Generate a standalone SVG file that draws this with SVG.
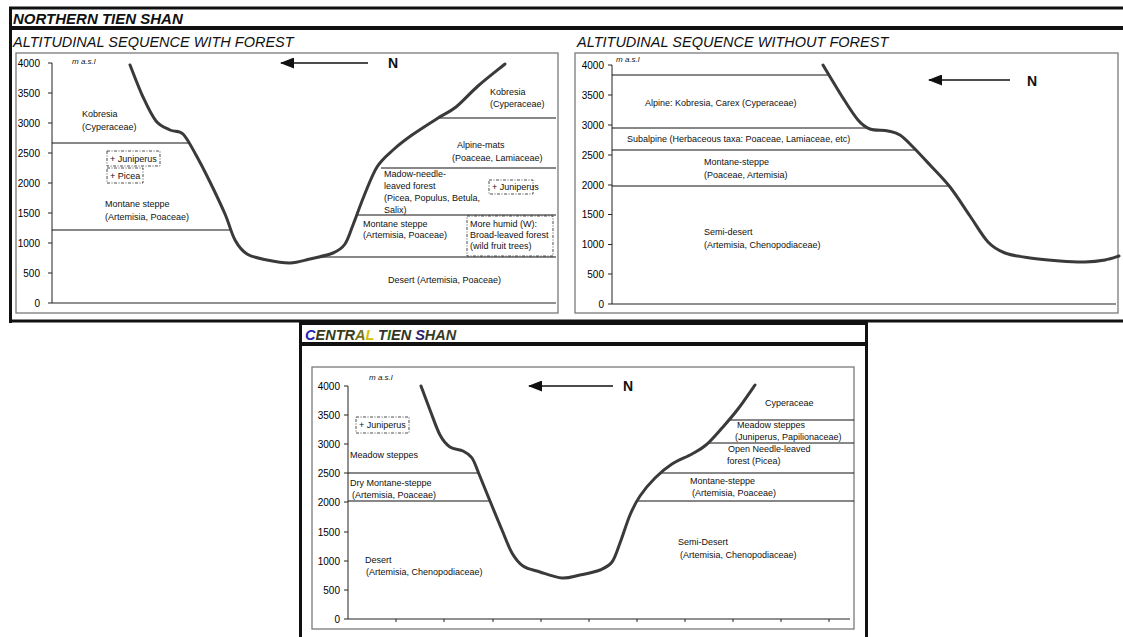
<svg xmlns="http://www.w3.org/2000/svg" width="1123" height="637" viewBox="0 0 1123 637">
<style>
text{font-family:"Liberation Sans",Arial,sans-serif;fill:#111}
.fr{stroke:#111;fill:none}
.box{stroke:#7a7a7a;stroke-width:1.3;fill:#fff}
.ax{stroke:#222;stroke-width:1;fill:none}
.zn{stroke:#111;stroke-width:1;fill:none}
.cv{stroke:#3a3a3a;stroke-width:3;fill:none;stroke-linejoin:round;stroke-linecap:round}
.lb{font-size:9px}
.tk{font-size:10px;text-anchor:end;fill:#000}
.ms{font-size:8px;font-style:italic}
.ds{fill:none;stroke:#222;stroke-width:0.8;stroke-dasharray:3 1.5 1 1.5}
.ti{font-size:15px;font-weight:bold;font-style:italic}
.st{font-size:14.5px;font-style:italic}
.n{font-size:14px;font-weight:bold}
.ar{stroke:#111;stroke-width:1.5;fill:none}
</style>
<defs>
<marker id="ah" markerUnits="userSpaceOnUse" markerWidth="14" markerHeight="11" refX="13" refY="5.5" orient="auto">
<path d="M0,0 L14,5.5 L0,11 Z" fill="#111"/>
</marker>
</defs>

<!-- outer frame of Northern Tien Shan -->
<g id="frame-north">
<line class="fr" x1="9" y1="8" x2="1123" y2="8" stroke-width="3"/>
<line class="fr" x1="9" y1="28" x2="1123" y2="28" stroke-width="4"/>
<line class="fr" x1="10.5" y1="7" x2="10.5" y2="323" stroke-width="3"/>
<line class="fr" x1="9" y1="321" x2="1123" y2="321" stroke-width="3"/>
<text class="ti" x="13" y="23.5">NORTHERN TIEN SHAN</text>
<text class="st" x="13" y="46.5">ALTITUDINAL SEQUENCE WITH FOREST</text>
<text class="st" x="577" y="46.5">ALTITUDINAL SEQUENCE WITHOUT FOREST</text>
</g>

<!-- chart: with forest -->
<g id="chart-with-forest">
<rect class="box" x="16" y="53" width="542" height="260"/>
<path class="ax" d="M52,63 V303 H556 M48,63 H52 M48,93 H52 M48,123 H52 M48,153 H52 M48,183 H52 M48,213 H52 M48,243 H52 M48,273 H52 M48,303 H52"/>
<text class="tk" x="40" y="66.5">4000</text>
<text class="tk" x="40" y="96.5">3500</text>
<text class="tk" x="40" y="126.5">3000</text>
<text class="tk" x="40" y="156.5">2500</text>
<text class="tk" x="40" y="186.5">2000</text>
<text class="tk" x="40" y="216.5">1500</text>
<text class="tk" x="40" y="246.5">1000</text>
<text class="tk" x="40" y="276.5">500</text>
<text class="tk" x="40" y="306.5">0</text>
<text class="ms" x="72" y="64">m a.s.l</text>
<path class="zn" d="M52,143 H188 M52,230 H231 M438,118 H556 M381,168 H556 M358,215 H556 M318,257 H556"/>
<path class="cv" d="M130,65 C132.2,70.3 138.7,87.7 143,97 C147.3,106.3 151.5,115.5 156,121 C160.5,126.5 165.5,127.8 170,130 C174.5,132.2 178.7,129.8 183,134 C187.3,138.2 191.5,147 196,155 C200.5,163 205.2,172.2 210,182 C214.8,191.8 220.8,204.3 225,214 C229.2,223.7 231.3,233.3 235,240 C238.7,246.7 241.7,250.7 247,254 C252.3,257.3 259.8,258.5 267,260 C274.2,261.5 282.8,263.2 290,263 C297.2,262.8 302.8,260.7 310,259 C317.2,257.3 327.2,255.5 333,253 C338.8,250.5 341.7,248.7 345,244 C348.3,239.3 349.8,233 353,225 C356.2,217 360,205.7 364,196 C368,186.3 372.2,174.7 377,167 C381.8,159.3 387.2,155.3 393,150 C398.8,144.7 404.5,140.3 412,135 C419.5,129.7 430.7,122.7 438,118 C445.3,113.3 449.3,112.3 456,107 C462.7,101.7 469.8,93.2 478,86 C486.2,78.8 500.5,67.7 505,64"/>
<line class="ar" x1="368" y1="63" x2="281" y2="63" marker-end="url(#ah)"/>
<text class="n" x="388" y="68">N</text>
<text class="lb" x="82" y="116.5">Kobresia</text>
<text class="lb" x="82" y="129.5">(Cyperaceae)</text>
<rect class="ds" x="107" y="151" width="53" height="15"/>
<text class="lb" x="110" y="161.5">+ Juniperus</text>
<rect class="ds" x="107" y="168" width="36" height="15"/>
<text class="lb" x="110" y="178.5">+ Picea</text>
<text class="lb" x="105" y="206.5">Montane steppe</text>
<text class="lb" x="105" y="219.5">(Artemisia, Poaceae)</text>
<text class="lb" x="490" y="95">Kobresia</text>
<text class="lb" x="490" y="107">(Cyperaceae)</text>
<text class="lb" x="457" y="148">Alpine-mats</text>
<text class="lb" x="452" y="160.5">(Poaceae, Lamiaceae)</text>
<text class="lb" x="384" y="176.5">Madow-needle-</text>
<text class="lb" x="384" y="189">leaved forest</text>
<text class="lb" x="384" y="201">(Picea, Populus, Betula,</text>
<text class="lb" x="384" y="213">Salix)</text>
<rect class="ds" x="489" y="180" width="44" height="14"/>
<text class="lb" x="492" y="190">+ Juniperus</text>
<text class="lb" x="363" y="226.5">Montane steppe</text>
<text class="lb" x="363" y="238">(Artemisia, Poaceae)</text>
<rect class="ds" x="467" y="216" width="86" height="40"/>
<text class="lb" x="470" y="226.5">More humid (W):</text>
<text class="lb" x="470" y="237.5">Broad-leaved forest</text>
<text class="lb" x="470" y="248.5">(wild fruit trees)</text>
<text class="lb" x="388" y="283">Desert (Artemisia, Poaceae)</text>
</g>

<!-- chart: without forest -->
<g id="chart-without-forest">
<rect class="box" x="575" y="53" width="543" height="260"/>
<path class="ax" d="M612,65 V304 H1116 M608,65 H612 M608,95 H612 M608,125 H612 M608,155 H612 M608,185 H612 M608,214.5 H612 M608,244.5 H612 M608,274 H612 M608,304 H612"/>
<text class="tk" x="604" y="68.5">4000</text>
<text class="tk" x="604" y="98.5">3500</text>
<text class="tk" x="604" y="128.5">3000</text>
<text class="tk" x="604" y="158.5">2500</text>
<text class="tk" x="604" y="188.5">2000</text>
<text class="tk" x="604" y="218">1500</text>
<text class="tk" x="604" y="248">1000</text>
<text class="tk" x="604" y="277.5">500</text>
<text class="tk" x="604" y="307.5">0</text>
<text class="ms" x="616" y="62">m a.s.l</text>
<path class="zn" d="M612,75 H829 M612,128 H867 M612,150 H916 M612,186 H950"/>
<path class="cv" d="M823,65 C826.3,70.5 837.2,88.8 843,98 C848.8,107.2 853.5,114.8 858,120 C862.5,125.2 865,127.2 870,129 C875,130.8 883,130 888,131 C893,132 895.8,132.3 900,135 C904.2,137.7 908,142 913,147 C918,152 923.8,158.3 930,165 C936.2,171.7 943.3,178.5 950,187 C956.7,195.5 963.7,206.8 970,216 C976.3,225.2 982.2,235.8 988,242 C993.8,248.2 998,250.3 1005,253 C1012,255.7 1020.8,256.7 1030,258 C1039.2,259.3 1050.8,260.3 1060,261 C1069.2,261.7 1077.5,262.2 1085,262 C1092.5,261.8 1099.3,261 1105,260 C1110.7,259 1116.7,256.7 1119,256"/>
<line class="ar" x1="1010" y1="80" x2="929" y2="80" marker-end="url(#ah)"/>
<text class="n" x="1027" y="86">N</text>
<text class="lb" x="645" y="106">Alpine: Kobresia, Carex (Cyperaceae)</text>
<text class="lb" x="627" y="142">Subalpine (Herbaceous taxa: Poaceae, Lamiaceae, etc)</text>
<text class="lb" x="704" y="164.5">Montane-steppe</text>
<text class="lb" x="704" y="177.5">(Poaceae, Artemisia)</text>
<text class="lb" x="704" y="235">Semi-desert</text>
<text class="lb" x="704" y="248">(Artemisia, Chenopodiaceae)</text>
</g>

<!-- Central Tien Shan -->
<g id="frame-central">
<line class="fr" x1="299" y1="323.5" x2="868" y2="323.5" stroke-width="3"/>
<line class="fr" x1="300.5" y1="321" x2="300.5" y2="637" stroke-width="3"/>
<line class="fr" x1="866.5" y1="321" x2="866.5" y2="637" stroke-width="3"/>
<line class="fr" x1="299" y1="344" x2="868" y2="344" stroke-width="4"/>
<text class="ti" x="305" y="340" style="font-size:14.5px"><tspan fill="#2424b8">C</tspan><tspan fill="#3a3a16">ENTR</tspan><tspan fill="#7a7418">A</tspan><tspan fill="#d6c000">L</tspan><tspan fill="#333"> T</tspan><tspan fill="#1c6e1c">I</tspan><tspan fill="#33331e">EN </tspan><tspan fill="#2a2070">S</tspan><tspan fill="#3a3a1e">HAN</tspan></text>
</g>

<g id="chart-central">
<rect class="box" x="312" y="367" width="542" height="262"/>
<path class="ax" d="M348,386 V619 H850 M344,386 H348 M344,415 H348 M344,444 H348 M344,473 H348 M344,502 H348 M344,532 H348 M344,561 H348 M344,590 H348 M344,619 H348 M396,619 V622 M444,619 V622 M493,619 V622 M541,619 V622 M589,619 V622 M637,619 V622 M685,619 V622 M733,619 V622 M781,619 V622 M829,619 V622"/>
<text class="tk" x="340" y="389.5">4000</text>
<text class="tk" x="340" y="418.5">3500</text>
<text class="tk" x="340" y="447.5">3000</text>
<text class="tk" x="340" y="476.5">2500</text>
<text class="tk" x="340" y="505.5">2000</text>
<text class="tk" x="340" y="535.5">1500</text>
<text class="tk" x="340" y="564.5">1000</text>
<text class="tk" x="340" y="593.5">500</text>
<text class="tk" x="340" y="622.5">0</text>
<text class="ms" x="369" y="380">m a.s.l</text>
<path class="zn" d="M348,473 H478 M348,501 H490 M729,420 H854 M707,443 H854 M661,473 H854 M638,501 H854"/>
<path class="cv" d="M421,386 C422.5,390 426.8,401.8 430,410 C433.2,418.2 436.7,428.8 440,435 C443.3,441.2 446.2,444.3 450,447 C453.8,449.7 459.3,449.2 463,451 C466.7,452.8 469.3,454.2 472,458 C474.7,461.8 476,466.8 479,474 C482,481.2 486.2,491.7 490,501 C493.8,510.3 498.3,521.3 502,530 C505.7,538.7 508.5,547 512,553 C515.5,559 518.3,562.8 523,566 C527.7,569.2 533.5,570 540,572 C546.5,574 555.3,577.5 562,578 C568.7,578.5 573.7,576.3 580,575 C586.3,573.7 594.7,572.2 600,570 C605.3,567.8 608.7,566.5 612,562 C615.3,557.5 617,550.8 620,543 C623,535.2 626.7,522.8 630,515 C633.3,507.2 635.8,502.2 640,496 C644.2,489.8 649.7,483.3 655,478 C660.3,472.7 665.8,468 672,464 C678.2,460 686.3,457.2 692,454 C697.7,450.8 701,449.3 706,445 C711,440.7 716.7,434 722,428 C727.3,422 732.5,416.2 738,409 C743.5,401.8 752.2,389 755,385"/>
<line class="ar" x1="613" y1="386" x2="529" y2="386" marker-end="url(#ah)"/>
<text class="n" x="623" y="391">N</text>
<rect class="ds" x="356" y="417" width="53" height="16"/>
<text class="lb" x="359" y="428">+ Juniperus</text>
<text class="lb" x="350" y="458">Meadow steppes</text>
<text class="lb" x="350" y="486">Dry Montane-steppe</text>
<text class="lb" x="352" y="498">(Artemisia, Poaceae)</text>
<text class="lb" x="365" y="563">Desert</text>
<text class="lb" x="366" y="575">(Artemisia, Chenopodiaceae)</text>
<text class="lb" x="765" y="406">Cyperaceae</text>
<text class="lb" x="737" y="428">Meadow steppes</text>
<text class="lb" x="735" y="440">(Juniperus, Papilionaceae)</text>
<text class="lb" x="728" y="452">Open Needle-leaved</text>
<text class="lb" x="727" y="464">forest (Picea)</text>
<text class="lb" x="690" y="484">Montane-steppe</text>
<text class="lb" x="692" y="496">(Artemisia, Poaceae)</text>
<text class="lb" x="678" y="545">Semi-Desert</text>
<text class="lb" x="680" y="558">(Artemisia, Chenopodiaceae)</text>
</g>
</svg>
